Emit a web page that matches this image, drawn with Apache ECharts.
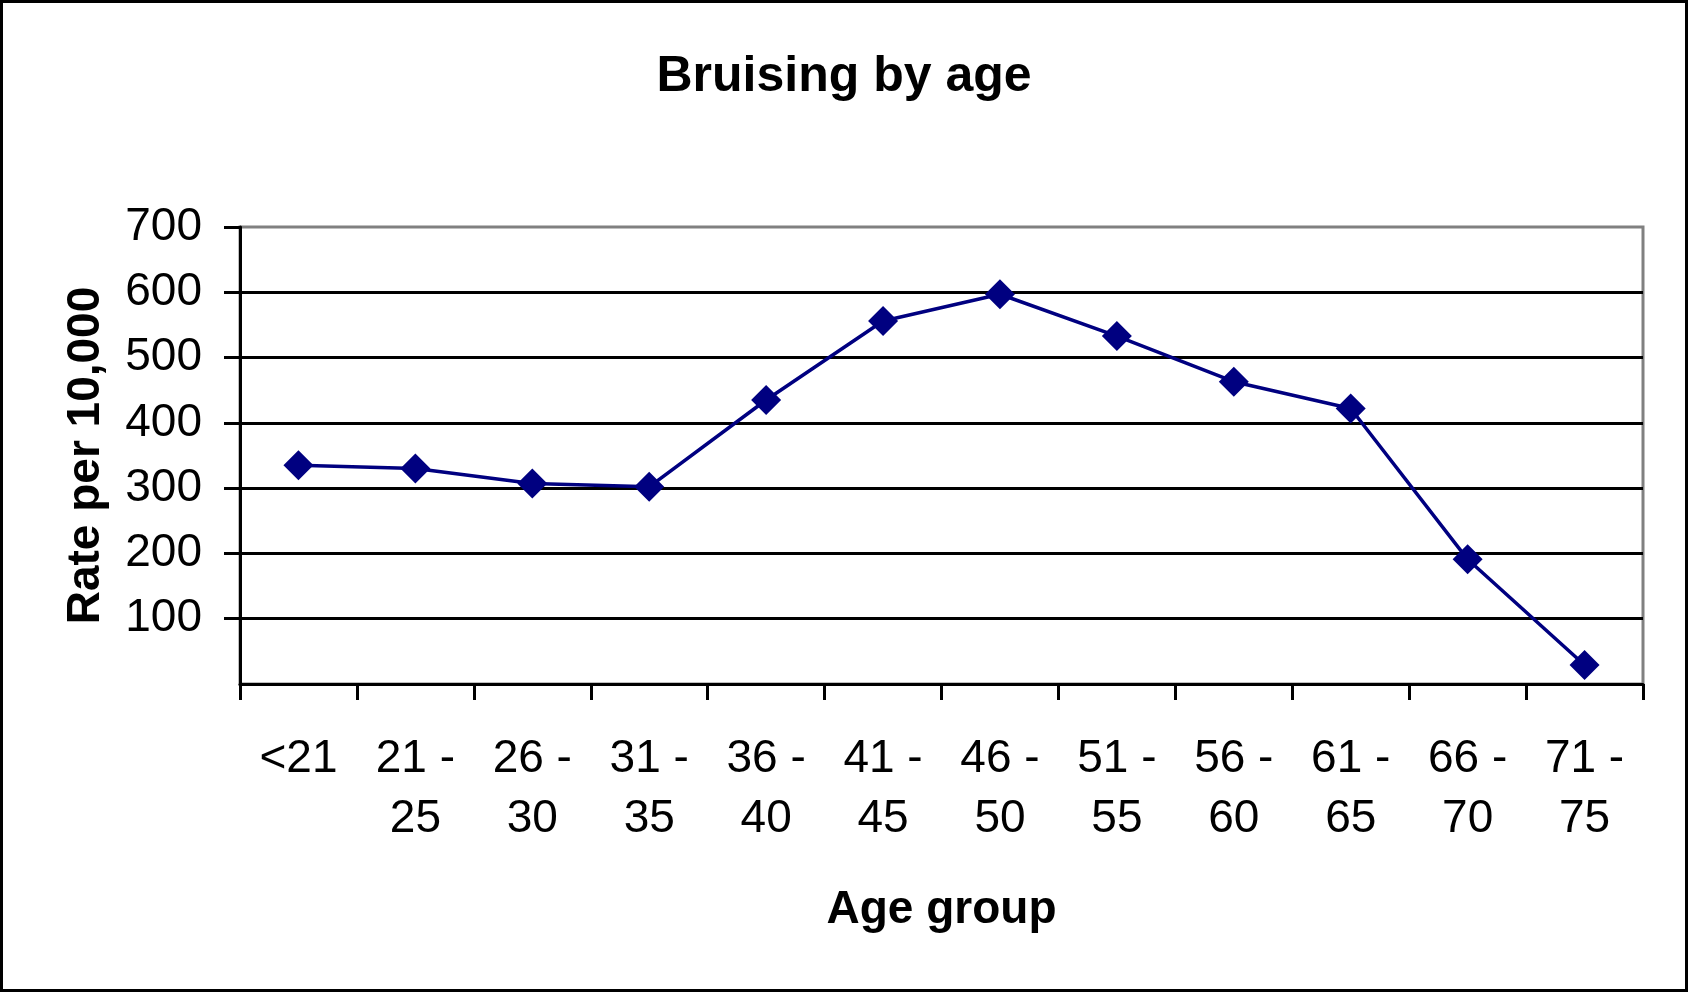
<!DOCTYPE html>
<html>
<head>
<meta charset="utf-8">
<title>Bruising by age</title>
<script src="https://cdn.jsdelivr.net/npm/echarts@6/dist/echarts.min.js"></script>
<style>
    html, body { margin: 0; padding: 0; background: #fff; }
    #main { width: 1688px; height: 992px; }
</style>
</head>
<body>
<div id="main"></div>
<script type="text/javascript">
    // 年龄组 / 每万人比率
    var ageGroups = ['<21', '21 - 25', '26 - 30', '31 - 35', '36 - 40', '41 - 45',
        '46 - 50', '51 - 55', '56 - 60', '61 - 65', '66 - 70', '71 - 75'];
    var ratePer10k = [335, 330, 307, 302, 435, 556, 597, 533, 463, 422, 191, 29];
    var yTicks = [0, 100, 200, 300, 400, 500, 600, 700];

    var font = 'Liberation Sans, Arial, sans-serif';
    var myChart = echarts.init(document.getElementById('main'));

    var option = {
        backgroundColor: '#fff',
        animation: false,
        title: {
            text: 'Bruising by age',
            left: 'center',
            top: 52,
            padding: 0,
            textStyle: {
                fontFamily: font,
                fontSize: 50,
                fontWeight: 'bold',
                color: '#000',
                lineHeight: 50
            }
        },
        graphic: [{
            type: 'rect',
            silent: true,
            shape: { x: 0, y: 0, width: 1688, height: 992 },
            style: { fill: 'none', stroke: '#000', lineWidth: 6 }
        }],
        grid: {
            left: 240,
            top: 227,
            right: 45,
            bottom: 308,
            show: true,
            borderColor: '#808080',
            borderWidth: 3
        },
        xAxis: {
            type: 'category',
            data: ageGroups,
            boundaryGap: true,
            name: 'Age group',
            nameLocation: 'middle',
            nameGap: 203,
            nameTextStyle: {
                fontFamily: font,
                fontSize: 46,
                fontWeight: 'bold',
                color: '#000',
                lineHeight: 46
            },
            axisLine: { lineStyle: { color: '#000', width: 3 } },
            axisTick: { show: true, length: 16, lineStyle: { color: '#000', width: 3 } },
            axisLabel: {
                interval: 0,
                margin: 45,
                fontFamily: font,
                fontSize: 46,
                lineHeight: 60,
                color: '#000',
                formatter: function (v) { return v.replace(' - ', ' -\n'); }
            },
            splitLine: { show: false }
        },
        yAxis: {
            type: 'value',
            min: yTicks[0],
            max: yTicks[yTicks.length - 1],
            interval: 100,
            name: 'Rate per 10,000',
            nameLocation: 'middle',
            nameGap: 131,
            nameTextStyle: {
                fontFamily: font,
                fontSize: 46,
                fontWeight: 'bold',
                color: '#000',
                lineHeight: 46
            },
            axisLine: { show: true, lineStyle: { color: '#000', width: 3 } },
            axisTick: { show: true, length: 16, lineStyle: { color: '#000', width: 3 } },
            axisLabel: {
                showMinLabel: false,
                margin: 38,
                fontFamily: font,
                fontSize: 46,
                color: '#000'
            },
            splitLine: {
                show: true,
                showMaxLine: false,
                lineStyle: { color: '#000', width: 3 }
            }
        },
        series: [{
            name: 'Rate per 10,000',
            type: 'line',
            data: ratePer10k,
            symbol: 'diamond',
            symbolSize: 30,
            lineStyle: { color: '#000080', width: 3.5 },
            itemStyle: { color: '#000080' },
            z: 5
        }]
    };
    myChart.setOption(option);
</script>
</body>
</html>
